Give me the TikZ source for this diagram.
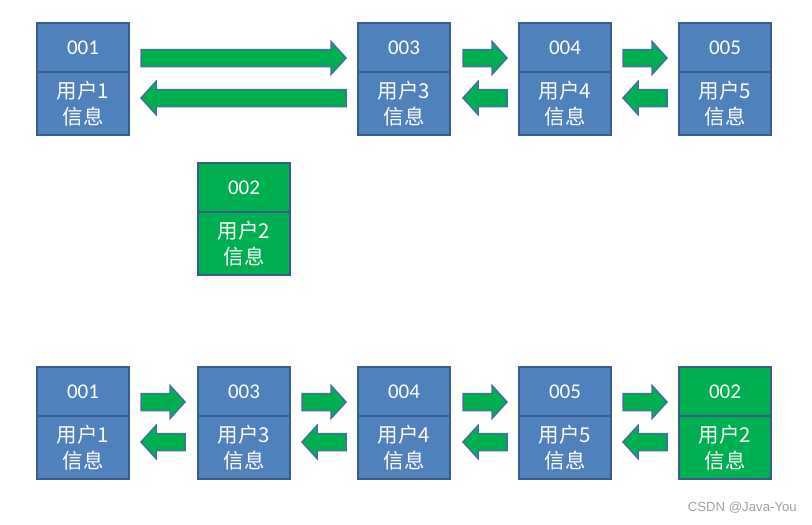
\documentclass[tikz,border=0pt]{standalone}
\usepackage{fontspec}
\newfontfamily\idfont{Carlito}
\newfontfamily\cjk{Noto Sans CJK SC}
\setmainfont{Liberation Sans}
\definecolor{boxblue}{HTML}{4F81BD}
\definecolor{boxgreen}{HTML}{00B050}
\definecolor{edgeblue}{HTML}{385D8A}
\definecolor{arrowedge}{HTML}{41719C}
\definecolor{wmgray}{HTML}{A0A0A0}
\tikzset{
  idbox/.style={draw=edgeblue, line width=2pt, fill=boxblue, minimum width=92pt,
    minimum height=49pt, text=white, inner sep=0pt, font=\idfont\fontsize{21}{24}\selectfont},
  infobox/.style={draw=edgeblue, line width=2pt, fill=boxblue, minimum width=92pt,
    minimum height=63pt, text=white, inner sep=0pt, align=center,
    font=\cjk\fontsize{20.5}{26}\selectfont},
  greenbox/.style={fill=boxgreen},
  blockarrow/.style={fill=boxgreen, draw=arrowedge, line width=1.5pt, line join=miter}
}
\newcommand\RArr[3]{% x1 x2 y
  \draw[blockarrow] (#1,#3-8.5) -- (#2-15,#3-8.5) -- (#2-15,#3-16.5) -- (#2,#3)
    -- (#2-15,#3+16.5) -- (#2-15,#3+8.5) -- (#1,#3+8.5) -- cycle;}
\newcommand\LArr[3]{% x1 x2 y
  \draw[blockarrow] (#2,#3-8.5) -- (#1+15,#3-8.5) -- (#1+15,#3-16.5) -- (#1,#3)
    -- (#1+15,#3+16.5) -- (#1+15,#3+8.5) -- (#2,#3+8.5) -- cycle;}
% name, left, top, id, digit, extra style
\newcommand\UserBox[6]{%
  \node[idbox,#6] (#1id) at (#2+46,#3+24.5) {#4};
  \node[infobox,#6] (#1info) at (#2+46,#3+80.5) {用户#5\\信息};}
\begin{document}
\begin{tikzpicture}[x=1pt,y=-1pt]
\useasboundingbox (0,0) rectangle (812,525);
% top row
\UserBox{ta}{37}{23}{001}{1}{}
\UserBox{tc}{358}{23}{003}{3}{}
\UserBox{td}{519}{23}{004}{4}{}
\UserBox{te}{679}{23}{005}{5}{}
% arrows, top row
\RArr{141}{346}{58}
\LArr{141}{346}{98}
\RArr{463}{507}{58}
\LArr{463}{507}{98}
\RArr{623}{667}{58}
\LArr{623}{667}{98}
% middle green
\UserBox{mb}{198}{163}{002}{2}{greenbox}
% bottom row
\UserBox{ba}{37}{367}{001}{1}{}
\UserBox{bc}{198}{367}{003}{3}{}
\UserBox{bd}{358}{367}{004}{4}{}
\UserBox{be}{519}{367}{005}{5}{}
\UserBox{bb}{679}{367}{002}{2}{greenbox}
\RArr{141}{185}{402}
\LArr{141}{185}{442}
\RArr{302}{346}{402}
\LArr{302}{346}{442}
\RArr{463}{507}{402}
\LArr{463}{507}{442}
\RArr{623}{667}{402}
\LArr{623}{667}{442}
\node[text=wmgray, font=\fontsize{13.2}{15}\selectfont, anchor=east, inner sep=0pt] (wm) at (797,508) {CSDN @Java-You};
\end{tikzpicture}
\end{document}
